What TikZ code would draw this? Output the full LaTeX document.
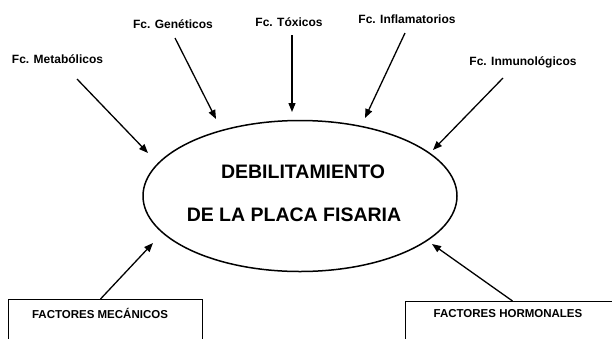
\documentclass[tikz,border=0pt]{standalone}
\usepackage{fontspec}
\setmainfont{Liberation Sans}
\usetikzlibrary{arrows.meta,shapes.geometric}
\begin{document}
\begin{tikzpicture}[x=1pt,y=-1pt,
  lbl/.style={font=\fontsize{12}{14}\selectfont\bfseries, inner sep=0pt},
  ttl/.style={font=\fontsize{19.5}{22}\selectfont\bfseries, inner sep=0pt},
  boxtxt/.style={font=\fontsize{11.5}{13}\selectfont\bfseries, inner sep=0pt},
  arr/.style={line width=1.3pt, -{Triangle[length=9pt,width=7pt]}},
  frame/.style={draw, rectangle, line width=1pt, anchor=north west, inner sep=0pt},
]
\useasboundingbox (0,0) rectangle (612,338);
\clip (0,0) rectangle (612,338);

% central ellipse
\node[ellipse, draw, line width=1.5pt, minimum width=314pt, minimum height=151pt] (ell) at (300,196) {};
\node[ttl] (t1) at (303,172) {DEBILITAMIENTO};
\node[ttl] (t2) at (294,215) {DE LA PLACA FISARIA};

% top labels
\node[lbl] (lM) at (57.5,59) {Fc. Metabólicos};
\node[lbl] (lG) at (173,24) {Fc. Genéticos};
\node[lbl] (lT) at (289,22) {Fc. Tóxicos};
\node[lbl] (lF) at (407,19) {Fc. Inflamatorios};
\node[lbl] (lI) at (523,62) {Fc. Inmunológicos};

% bottom boxes (open at the page bottom)
\node[frame, minimum width=194pt, minimum height=60pt] (bM) at (8,299) {};
\node[boxtxt] (xM) at (100,313) {FACTORES MECÁNICOS};
\node[frame, minimum width=230pt, minimum height=60pt] (bH) at (405,301) {};
\node[boxtxt] (xH) at (508,314) {FACTORES HORMONALES};

% arrow end points
\coordinate (sM) at (77,79);   \coordinate (eM) at (148,153);
\coordinate (sG) at (175,38);  \coordinate (eG) at (216,119);
\coordinate (sT) at (292,35);  \coordinate (eT) at (292,112);
\coordinate (sF) at (405,33);  \coordinate (eF) at (365,118);
\coordinate (sI) at (503,78);  \coordinate (eI) at (433,150);
\coordinate (eMc) at (153,243);
\coordinate (eH) at (432,244);

\draw[arr] (sM) -- (eM);
\draw[arr] (sG) -- (eG);
\draw[arr] (sT) -- (eT);
\draw[arr] (sF) -- (eF);
\draw[arr] (sI) -- (eI);
\draw[arr] ([xshift=-5pt]bM.north) -- (eMc);
\draw[arr] ([xshift=-8pt]bH.north) -- (eH);
\end{tikzpicture}
\end{document}
